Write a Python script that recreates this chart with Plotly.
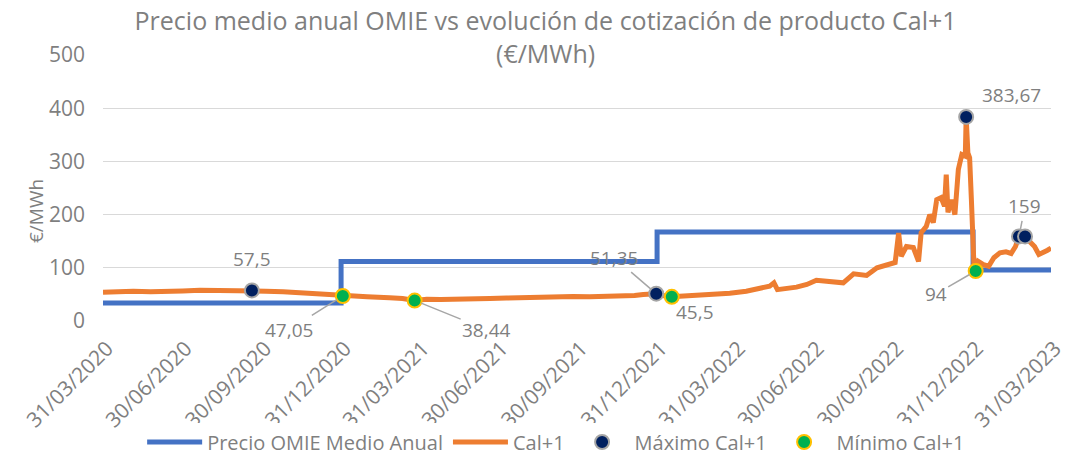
import pandas as pd
import plotly.graph_objects as go

# ---------------- data ----------------
tick_labels = ["31/03/2020", "30/06/2020", "30/09/2020", "31/12/2020", "31/03/2021",
               "30/06/2021", "30/09/2021", "31/12/2021", "31/03/2022", "30/06/2022",
               "30/09/2022", "31/12/2022", "31/03/2023"]

omie_dates = ["2020-03-31", "2020-12-31", "2021-12-31", "2022-12-31", "2023-03-31"]
omie_values = [33.96, 111.93, 167.52, 96.0, 96.0]

cal_dates = [
    "2020-03-31", "2020-04-15", "2020-05-05", "2020-05-25", "2020-06-13", "2020-07-01",
    "2020-07-21", "2020-08-13", "2020-09-01", "2020-09-19", "2020-10-05", "2020-10-25",
    "2020-11-21", "2020-12-10", "2020-12-22", "2021-01-02", "2021-01-15", "2021-01-30",
    "2021-02-25", "2021-03-12", "2021-03-26", "2021-04-09", "2021-04-25", "2021-05-13",
    "2021-06-01", "2021-06-21", "2021-07-10", "2021-07-29", "2021-08-15", "2021-09-06",
    "2021-09-25", "2021-10-14", "2021-11-02", "2021-11-22", "2021-12-05", "2021-12-15",
    "2021-12-30", "2022-01-06", "2022-01-17", "2022-01-26", "2022-02-15", "2022-03-06",
    "2022-03-25", "2022-04-13", "2022-04-28", "2022-05-10", "2022-05-15", "2022-05-19",
    "2022-06-10", "2022-06-22", "2022-07-03", "2022-07-19", "2022-08-03", "2022-08-15",
    "2022-08-30", "2022-09-11", "2022-09-24", "2022-10-02", "2022-10-06", "2022-10-09",
    "2022-10-15", "2022-10-23", "2022-10-29", "2022-11-01", "2022-11-07", "2022-11-11",
    "2022-11-15", "2022-11-19", "2022-11-24", "2022-11-28", "2022-11-30", "2022-12-02",
    "2022-12-06", "2022-12-10", "2022-12-14", "2022-12-18", "2022-12-22", "2022-12-23",
    "2022-12-25", "2022-12-27", "2022-12-29", "2023-01-01", "2023-01-03", "2023-01-06",
    "2023-01-12", "2023-01-18", "2023-01-24", "2023-01-31", "2023-02-07", "2023-02-13",
    "2023-02-18", "2023-02-22", "2023-02-26", "2023-03-01", "2023-03-06", "2023-03-12",
    "2023-03-17", "2023-03-22", "2023-03-27", "2023-03-31",
]
cal_values = [
    54, 55, 56, 55, 55, 56.5,
    58, 58, 56.5, 57.5, 56, 55,
    51.8, 49.5, 48, 47.05, 47, 45.5,
    43.7, 42.4, 38.44, 41, 40.5, 40.5,
    41.5, 42.4, 43, 43.7, 45, 46.7,
    46, 45.6, 46, 46.7, 48, 49.9,
    51.35, 48, 45.5, 46.7, 48, 49.9,
    52, 56, 60, 65.5, 71.8, 59,
    63.6, 68.6, 76.7, 73.7, 71.8, 88.7,
    85.5, 100, 106, 110, 165.5, 121.7,
    140, 138, 112, 166, 178, 200,
    185, 228, 232, 216, 275, 204,
    228, 200, 285, 313, 310, 383.67,
    316, 307, 230, 105, 94, 112,
    106, 103, 119, 128, 130, 127,
    140, 159, 157, 159, 150, 140,
    125, 128, 133, 137,
]

max_dates = ["2020-09-19", "2021-12-30", "2022-12-23", "2023-02-22", "2023-03-01"]
max_values = [57.5, 51.35, 383.67, 159, 159]

min_dates = ["2021-01-02", "2021-03-26", "2022-01-17", "2023-01-03"]
min_values = [47.05, 38.44, 45.5, 94]

# ---------------- style ----------------
GREY = "#7F7F7F"
FONT = "Open Sans"
BLUE = "#4472C4"
ORANGE = "#ED7D31"

tick_vals = pd.to_datetime(tick_labels, format="%d/%m/%Y")

fig = go.Figure()
fig.add_trace(go.Scatter(
    x=omie_dates, y=omie_values, mode="lines", line_shape="hv",
    line=dict(color=BLUE, width=5), name="Precio OMIE Medio Anual"))
fig.add_trace(go.Scatter(
    x=cal_dates, y=cal_values, mode="lines",
    line=dict(color=ORANGE, width=5), name="Cal+1"))
fig.add_trace(go.Scatter(
    x=max_dates, y=max_values, mode="markers",
    marker=dict(color="#002060", size=14, line=dict(color="#A5A5A5", width=2)),
    name="Máximo Cal+1"))
fig.add_trace(go.Scatter(
    x=min_dates, y=min_values, mode="markers",
    marker=dict(color="#00B050", size=14, line=dict(color="#FFC000", width=2)),
    name="Mínimo Cal+1"))


def fmt(v):
    return f"{v:g}".replace(".", ",")


# label placement: (dx, dy, leader line?)
max_place = [(0, -31, False), (-42, -36, True), (45, -22, False), (6, -30, True), None]
min_place = [(-54, 34, True), (72, 29, True), (23, 15, False), (-40, 23, True)]

annotations = []
for dates, vals, places in ((max_dates, max_values, max_place), (min_dates, min_values, min_place)):
    for d, v, p in zip(dates, vals, places):
        if p is None:
            continue
        dx, dy, arrow = p
        a = dict(x=d, y=v, xref="x", yref="y", text=fmt(v),
                 font=dict(family=FONT, size=19, color=GREY))
        if arrow:
            a.update(showarrow=True, ax=dx, ay=dy, arrowhead=0, arrowwidth=1.5,
                     arrowcolor="#A6A6A6", standoff=7)
        else:
            a.update(showarrow=False, xshift=dx, yshift=-dy)
        annotations.append(a)

annotations.append(dict(
    text="€/MWh", textangle=-90, xref="paper", yref="paper",
    x=(36 - 103) / 948, y=(321 - 211) / 266, xanchor="center", yanchor="middle",
    showarrow=False, font=dict(family=FONT, size=19, color=GREY)))

fig.update_layout(
    width=1074, height=455,
    margin=dict(l=103, r=23, t=55, b=134, autoexpand=False),
    paper_bgcolor="white", plot_bgcolor="white",
    font=dict(family=FONT, color=GREY),
    title=dict(text="Precio medio anual OMIE vs evolución de cotización de producto Cal+1<br>(€/MWh)",
               x=0.508, xanchor="center", xref="container",
               y=0.934, yanchor="top", yref="container",
               font=dict(family=FONT, size=25, color=GREY)),
    xaxis=dict(type="date", range=["2020-03-31", "2023-03-31"], automargin=False,
               tickvals=tick_vals, ticktext=tick_labels, tickangle=-45,
               ticklabelstandoff=10, ticklabelshift=4,
               showgrid=False, showline=False, zeroline=False, ticks="",
               tickfont=dict(family=FONT, size=21, color=GREY)),
    yaxis=dict(range=[0, 500], dtick=100, showgrid=True, gridcolor="#D9D9D9",
               gridwidth=1, zeroline=False, showline=False, ticks="", automargin=False,
               ticklabelstandoff=17,
               tickfont=dict(family=FONT, size=21, color=GREY)),
    legend=dict(orientation="h", x=0.478, xanchor="center", y=-0.455, yanchor="middle",
                font=dict(family=FONT, size=20, color=GREY), itemwidth=55),
    annotations=annotations,
    showlegend=True,
)

fig.write_html("out.html", config={"displayModeBar": False},
               post_script="document.body.style.margin='0';document.body.style.overflow='hidden';")
